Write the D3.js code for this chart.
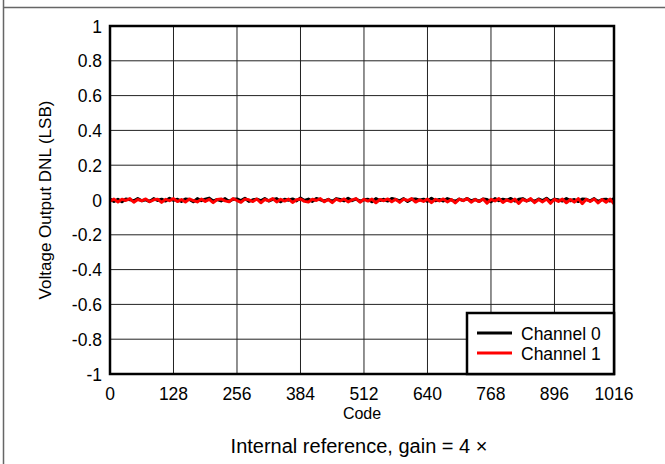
<!DOCTYPE html>
<html><head><meta charset="utf-8">
<script src="https://cdn.jsdelivr.net/npm/d3@7"></script>
<style>body{margin:0;background:#fff}svg{display:block;font-family:"Liberation Sans",Arial,sans-serif}</style>
</head><body><svg id="c" width="665" height="464"></svg>
<script>
const xTicks = [0,128,256,384,512,640,768,896,1016];
const yTicks = [-1,-0.8,-0.6,-0.4,-0.2,0,0.2,0.4,0.6,0.8,1];
const codeStep = 8;
const channel0 = [
0.005,-0.008,0.004,-0.010,0.006,0.002,-0.005,0.009,-0.004,0.001,
-0.009,0.008,-0.003,0.005,-0.006,0.010,-0.002,0.004,-0.008,0.006,
0.003,-0.010,0.008,-0.004,0.005,0.011,-0.006,0.003,-0.005,0.008,
-0.009,0.004,0.006,-0.003,0.010,-0.008,0.001,0.005,-0.004,0.009,
-0.006,0.003,0.008,-0.010,0.004,-0.001,0.006,-0.005,0.011,-0.003,
0.005,-0.008,0.009,0.001,-0.006,0.004,-0.009,0.008,0.003,-0.005,
0.010,-0.004,0.006,-0.008,0.001,0.005,-0.010,0.008,-0.003,0.004,
-0.006,0.009,0.003,-0.005,0.008,-0.009,0.004,0.006,-0.001,0.005,
-0.008,0.010,-0.004,0.003,-0.006,0.008,0.001,-0.009,0.005,-0.003,
0.009,-0.005,0.004,-0.008,0.006,0.003,-0.010,0.008,-0.004,0.005,
-0.001,0.009,-0.006,0.004,0.008,-0.005,0.003,-0.009,0.006,-0.003,
0.010,-0.008,0.005,0.001,-0.006,0.008,-0.004,0.003,-0.009,0.006,
0.004,-0.005,0.008,-0.010,0.003,0.005,-0.006,0.009];
const channel1 = [
-0.006,0.005,-0.011,0.004,-0.003,0.008,-0.013,0.003,-0.005,0.006,
-0.010,0.001,0.005,-0.014,0.004,-0.004,0.008,-0.009,0.003,-0.012,
0.006,-0.003,-0.011,0.005,-0.008,0.004,-0.015,0.003,0.006,-0.005,
-0.010,0.008,-0.003,-0.013,0.005,0.001,-0.009,0.006,-0.016,0.003,
-0.004,0.008,-0.011,0.004,-0.006,0.005,-0.014,0.001,0.006,-0.008,
-0.012,0.004,-0.003,0.008,-0.010,0.003,-0.015,0.005,-0.005,0.006,
-0.011,0.001,0.008,-0.013,0.004,-0.006,0.005,-0.016,0.003,-0.004,
0.006,-0.010,0.004,-0.014,0.005,-0.003,0.008,-0.012,0.001,-0.008,
0.005,-0.015,0.004,-0.005,0.006,-0.011,0.003,-0.017,0.005,-0.004,
0.008,-0.013,0.003,-0.009,0.006,-0.018,0.004,-0.005,0.008,-0.014,
0.001,-0.010,0.005,-0.020,0.004,-0.006,0.008,-0.015,0.003,-0.011,
0.006,-0.019,0.004,-0.008,0.005,-0.016,0.003,-0.012,0.008,-0.021,
0.004,-0.009,0.006,-0.017,0.003,-0.013,0.005,-0.022];
const seriesNames = ["Channel 0","Channel 1"];
const seriesColors = ["#000000","#ff0000"];

const svg = d3.select("#c");
const L=110, R=614, T=26, B=374;
const x = d3.scaleLinear().domain([0,1016]).range([L,R]);
const y = d3.scaleLinear().domain([-1,1]).range([B,T]);

svg.append("line").attr("x1",3.5).attr("x2",3.5).attr("y1",0).attr("y2",464).attr("stroke","#666").attr("stroke-width",1.5);
svg.append("line").attr("x1",3.5).attr("x2",665).attr("y1",7.5).attr("y2",7.5).attr("stroke","#666").attr("stroke-width",1.5);

const g = svg.append("g");
g.selectAll(".vg").data(xTicks).join("line").attr("x1",d=>x(d)).attr("x2",d=>x(d)).attr("y1",T).attr("y2",B).attr("stroke","#222").attr("stroke-width",1);
g.selectAll(".hg").data(yTicks).join("line").attr("y1",d=>y(d)).attr("y2",d=>y(d)).attr("x1",L).attr("x2",R).attr("stroke","#222").attr("stroke-width",1);

svg.append("g").selectAll("text").data(xTicks).join("text")
  .attr("x",d=>x(d)).attr("y",B+26).attr("text-anchor","middle").attr("font-size",17.5).attr("fill","#000").text(d=>String(d));
svg.append("g").selectAll("text").data(yTicks).join("text")
  .attr("x",L-8).attr("y",d=>y(d)+6.5).attr("text-anchor","end").attr("font-size",17.5).attr("fill","#000").text(d=>String(d));

const line = d3.line().x((d,i)=>x(i*codeStep)).y(d=>y(d));
[channel0,channel1].forEach((s,k)=>{
  svg.append("path").datum(s).attr("d",line).attr("fill","none").attr("stroke",seriesColors[k]).attr("stroke-width",3).attr("stroke-linejoin","round");
});

svg.append("rect").attr("x",L).attr("y",T).attr("width",R-L).attr("height",B-T).attr("fill","none").attr("stroke","#000").attr("stroke-width",2.5);

const lg = svg.append("g");
lg.append("rect").attr("x",467).attr("y",313).attr("width",147).attr("height",61).attr("fill","#fff").attr("stroke","#000").attr("stroke-width",2.5);
seriesNames.forEach((n,k)=>{
  const yy = 333 + k*20;
  lg.append("line").attr("x1",477).attr("x2",512).attr("y1",yy).attr("y2",yy).attr("stroke",seriesColors[k]).attr("stroke-width",3);
  lg.append("text").attr("x",521).attr("y",yy+7).attr("font-size",17.5).text(n);
});

svg.append("text").attr("x",(L+R)/2).attr("y",419).attr("text-anchor","middle").attr("font-size",16).text("Code");
svg.append("text").attr("transform",`translate(51,${(T+B)/2}) rotate(-90)`).attr("text-anchor","middle").attr("font-size",17).text("Voltage Output DNL (LSB)");
svg.append("text").attr("x",359).attr("y",453).attr("text-anchor","middle").attr("font-size",20).text("Internal reference, gain = 4 ×");
</script></body></html>
